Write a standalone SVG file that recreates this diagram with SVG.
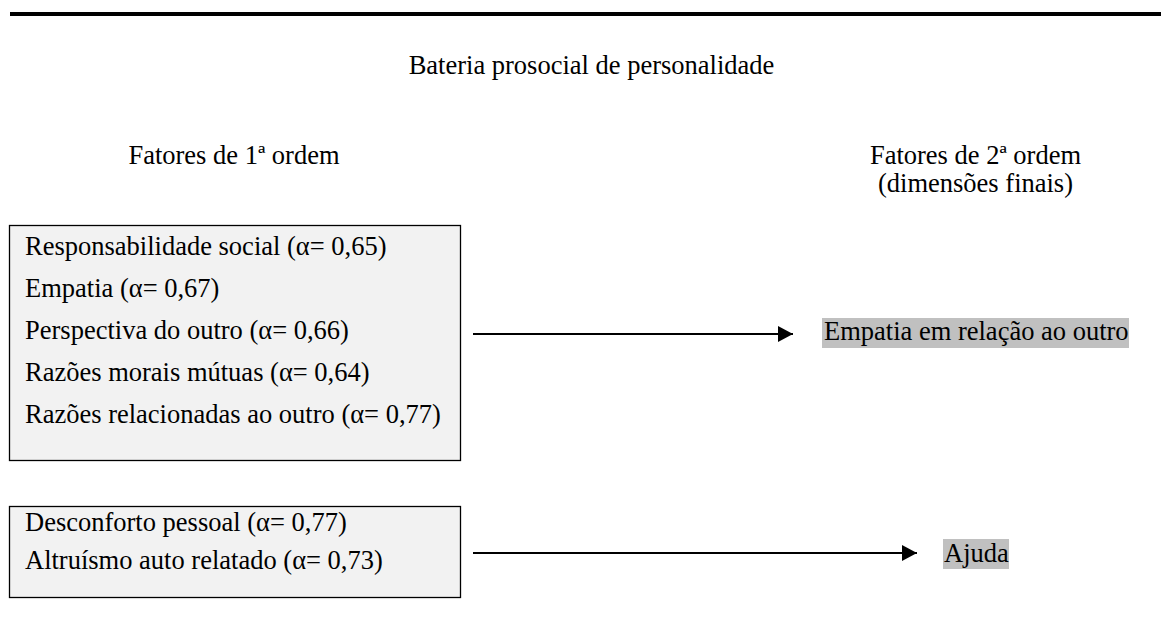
<svg xmlns="http://www.w3.org/2000/svg" width="1161" height="641" viewBox="0 0 1161 641">
<style>
text{font-family:"Liberation Serif","Tinos","Times New Roman","DejaVu Serif",serif;font-size:26.5px;fill:#000}
.box{fill:#f2f2f2;stroke:#000;stroke-width:1.3}
.hl{fill:#c0c0c0}
.conn{stroke:#000;stroke-width:2.2;fill:none}
</style>
<defs>
<marker id="ah" markerWidth="15" markerHeight="16" refX="15" refY="8" orient="auto" markerUnits="userSpaceOnUse">
<path d="M0,0 L15,8 L0,16 Z" fill="#000"/>
</marker>
</defs>
<rect x="10" y="12" width="1151" height="4" fill="#000"/>
<text x="591.5" y="74" text-anchor="middle">Bateria prosocial de personalidade</text>
<text x="234" y="164" text-anchor="middle">Fatores de 1ª ordem</text>
<text x="975.5" y="164" text-anchor="middle">Fatores de 2ª ordem</text>
<text x="975.5" y="192" text-anchor="middle">(dimensões finais)</text>
<g id="n1">
<rect class="box" x="9.5" y="225.5" width="451" height="235"/>
<text x="25" y="255">Responsabilidade social (α= 0,65)</text>
<text x="25" y="297">Empatia (α= 0,67)</text>
<text x="25" y="339">Perspectiva do outro (α= 0,66)</text>
<text x="25" y="381">Razões morais mútuas (α= 0,64)</text>
<text x="25" y="423">Razões relacionadas ao outro (α= 0,77)</text>
</g>
<g id="n2">
<rect class="box" x="9.5" y="506.5" width="451" height="91"/>
<text x="25" y="531">Desconforto pessoal (α= 0,77)</text>
<text x="25" y="569">Altruísmo auto relatado (α= 0,73)</text>
</g>
<g id="n3">
<rect class="hl" x="822" y="318" width="307" height="30"/>
<text x="824" y="340">Empatia em relação ao outro</text>
</g>
<g id="n4">
<rect class="hl" x="943" y="539" width="66" height="30"/>
<text x="944" y="562">Ajuda</text>
</g>
<g id="connectors">
<line class="conn" x1="473" y1="334" x2="793" y2="334" marker-end="url(#ah)"/>
<line class="conn" x1="473" y1="553" x2="917" y2="553" marker-end="url(#ah)"/>
</g>
</svg>
